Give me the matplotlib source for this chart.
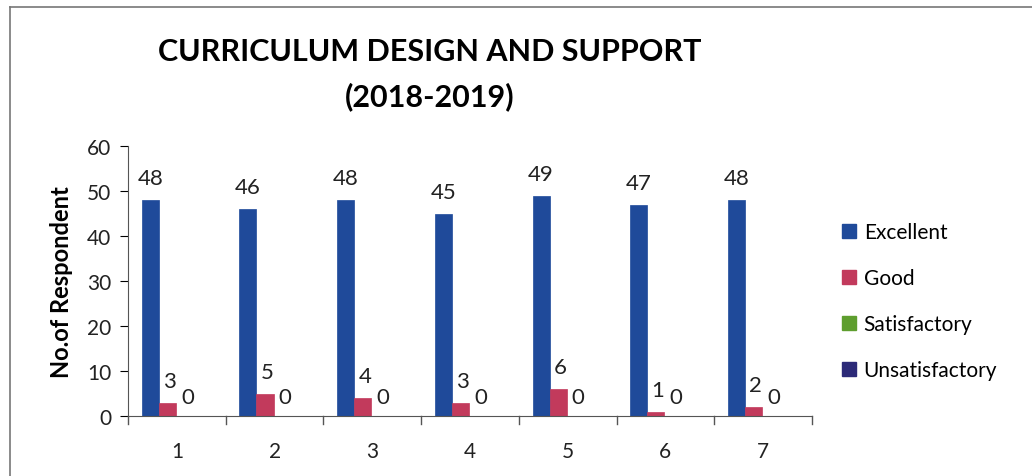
import matplotlib
matplotlib.use("Agg")
import matplotlib.pyplot as plt
import numpy as np
from matplotlib.lines import Line2D

categories = ["1", "2", "3", "4", "5", "6", "7"]
excellent = [48, 46, 48, 45, 49, 47, 48]
good = [3, 5, 4, 3, 6, 1, 2]
satisfactory = [0, 0, 0, 0, 0, 0, 0]
unsatisfactory = [0, 0, 0, 0, 0, 0, 0]
series_names = ["Excellent", "Good", "Satisfactory", "Unsatisfactory"]
colors = ["#1F4A9A", "#C23A5C", "#5E9E2E", "#2C2A78"]

plt.rcParams['font.family'] = ['Lato', 'DejaVu Sans']
fig = plt.figure(figsize=(10.32, 4.77), dpi=100)
ax = fig.add_axes([128/1032, 1-417/477, (812-128)/1032, (417-147)/477])

x = np.arange(len(categories))
w = 0.175
data = [excellent, good, satisfactory, unsatisfactory]
offsets = [-1.5*w, -0.5*w, 0.5*w, 1.5*w]
for vals, off, c, name in zip(data, offsets, colors, series_names):
    ax.bar(x + off - 0.01, vals, width=w, color=c, edgecolor=c, linewidth=0.5, label=name)

# labels
txtc = '#222222'
for i in range(len(categories)):
    ax.text(x[i] + offsets[0] - 0.01, excellent[i] + 2.6, str(excellent[i]), ha='center', va='bottom', fontsize=16, color=txtc)
    ax.text(x[i] + offsets[1] + 0.01, good[i] + 2.6, str(good[i]), ha='center', va='bottom', fontsize=16, color=txtc)
    ax.text(x[i] + offsets[2] + 0.02, satisfactory[i] + 2.0, str(satisfactory[i]), ha='center', va='bottom', fontsize=16, color=txtc)

ax.set_xlim(-0.5, len(categories) - 0.5)
ax.set_ylim(0, 60)
ax.set_yticks(range(0, 61, 10))
ax.set_xticks(x)
ax.set_xticklabels(categories, fontsize=15)
ax.tick_params(axis='x', length=0, pad=18, labelcolor=txtc)
ax.tick_params(axis='y', labelsize=15, direction='out', length=6, pad=6, labelcolor=txtc)
for b in np.arange(-0.5, len(categories), 1.0):
    ax.plot([b, b], [0, -1.8], color='#555555', lw=1, clip_on=False)
for s in ['top', 'right']:
    ax.spines[s].set_visible(False)
ax.spines['left'].set_color('#555555')
ax.spines['bottom'].set_color('#555555')
ax.set_ylabel("No.of Respondent", fontsize=17, fontweight='bold', labelpad=10)

handles = [Line2D([0], [0], marker='s', linestyle='', markersize=10, markerfacecolor=c, markeredgecolor=c) for c in colors]
fig.legend(handles, series_names, loc='center left', bbox_to_anchor=(822/1032, 1-302/477), frameon=False,
           fontsize=15, labelspacing=1.25, handletextpad=0.3, handlelength=0.8)

fig.text(430/1032, 1-52/477, "CURRICULUM DESIGN AND SUPPORT", ha='center', va='center', fontsize=22, fontweight='bold')
fig.text(430/1032, 1-97/477, "(2018-2019)", ha='center', va='center', fontsize=22, fontweight='bold')

# scanned page border
fig.add_artist(Line2D([10/1032, 10/1032], [0, 1-8/477], transform=fig.transFigure, color='#777777', lw=1.2))
fig.add_artist(Line2D([10/1032, 1], [1-8/477, 1-8/477], transform=fig.transFigure, color='#777777', lw=1.2))

fig.savefig("out.png", dpi=100)
